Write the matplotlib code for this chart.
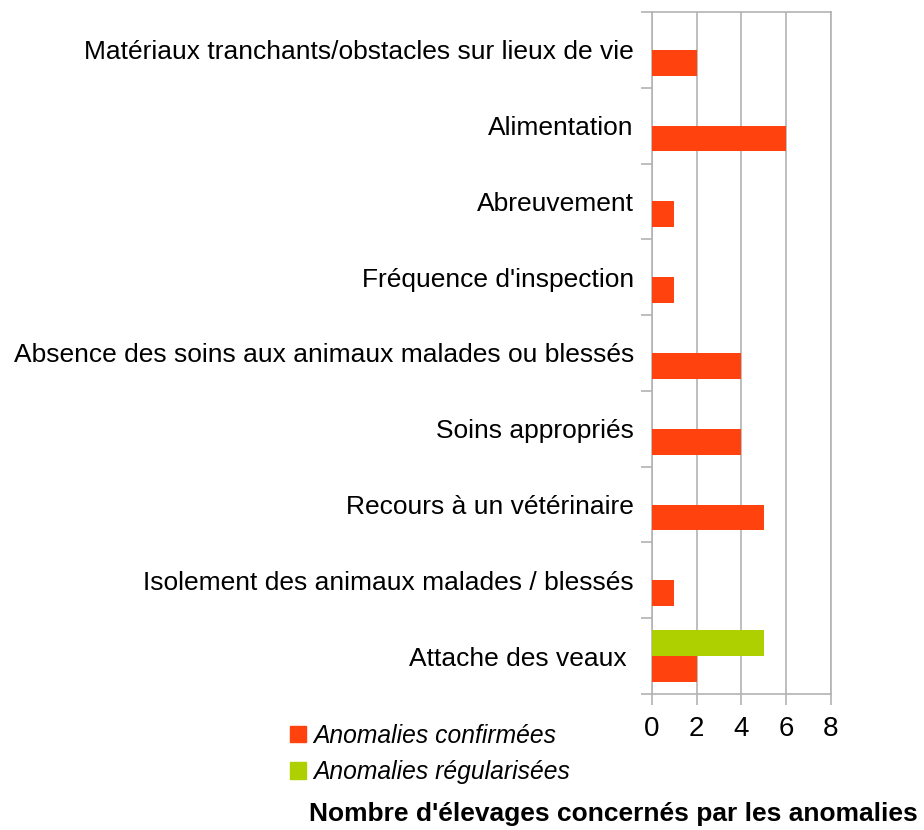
import numpy as np
from matplotlib import pyplot as plt
from matplotlib.patches import Patch

plt.rcParams['font.family'] = ['Liberation Sans', 'DejaVu Sans']

categories = ["Matériaux tranchants/obstacles sur lieux de vie",
              "Alimentation",
              "Abreuvement",
              "Fréquence d'inspection",
              "Absence des soins aux animaux malades ou blessés",
              "Soins appropriés",
              "Recours à un vétérinaire",
              "Isolement des animaux malades / blessés",
              "Attache des veaux "]
confirmees = [2, 6, 1, 1, 4, 4, 5, 1, 2]
regularisees = [0, 0, 0, 0, 0, 0, 0, 0, 5]
xticks = [0, 2, 4, 6, 8]

orange = "#FF420E"
green = "#AECF00"
grey = "#B3B3B3"

fig = plt.figure(figsize=(9.24, 8.30), dpi=100)
ax = fig.add_axes([0.7056, 0.1639, 0.1937, 0.8217])

y = np.arange(len(categories))
h = 0.34
ax.barh(y + h/2, confirmees, height=h, color=orange, zorder=3)
ax.barh(y - h/2, regularisees, height=h, color=green, zorder=3)

ax.set_ylim(len(categories) - 0.5, -0.5)
ax.set_xlim(0, 8)
ax.set_xticks(xticks)
ax.set_xticklabels([str(t) for t in xticks], fontsize=20)
ax.set_yticks(y)
ax.set_yticklabels(categories, fontsize=19)
ax.tick_params(axis='y', length=0, pad=13)
ax.set_yticks(np.arange(len(categories) + 1) - 0.5, minor=True)
ax.tick_params(axis='y', which='minor', length=8, color=grey, width=1.2)
ax.tick_params(axis='x', length=8, color=grey, width=1.2, pad=8)
ax.grid(axis='x', color=grey, linewidth=1.2, zorder=0)
for s in ax.spines.values():
    s.set_color(grey)
    s.set_linewidth(1.2)

handles = [Patch(color=orange, label="Anomalies confirmées"),
           Patch(color=green, label="Anomalies régularisées")]
fig.legend(handles=handles, loc='upper left', bbox_to_anchor=(0.314, 0.128),
           frameon=False, prop={'size': 17.7, 'style': 'italic'},
           handlelength=0.65, handleheight=0.65, handletextpad=0.3,
           labelspacing=0.5, borderaxespad=0, borderpad=0)

fig.text(0.9935, 0.019, "Nombre d'élevages concernés par les anomalies",
         ha='right', va='center', fontsize=19, fontweight='bold')

plt.savefig("out.png", dpi=100)
